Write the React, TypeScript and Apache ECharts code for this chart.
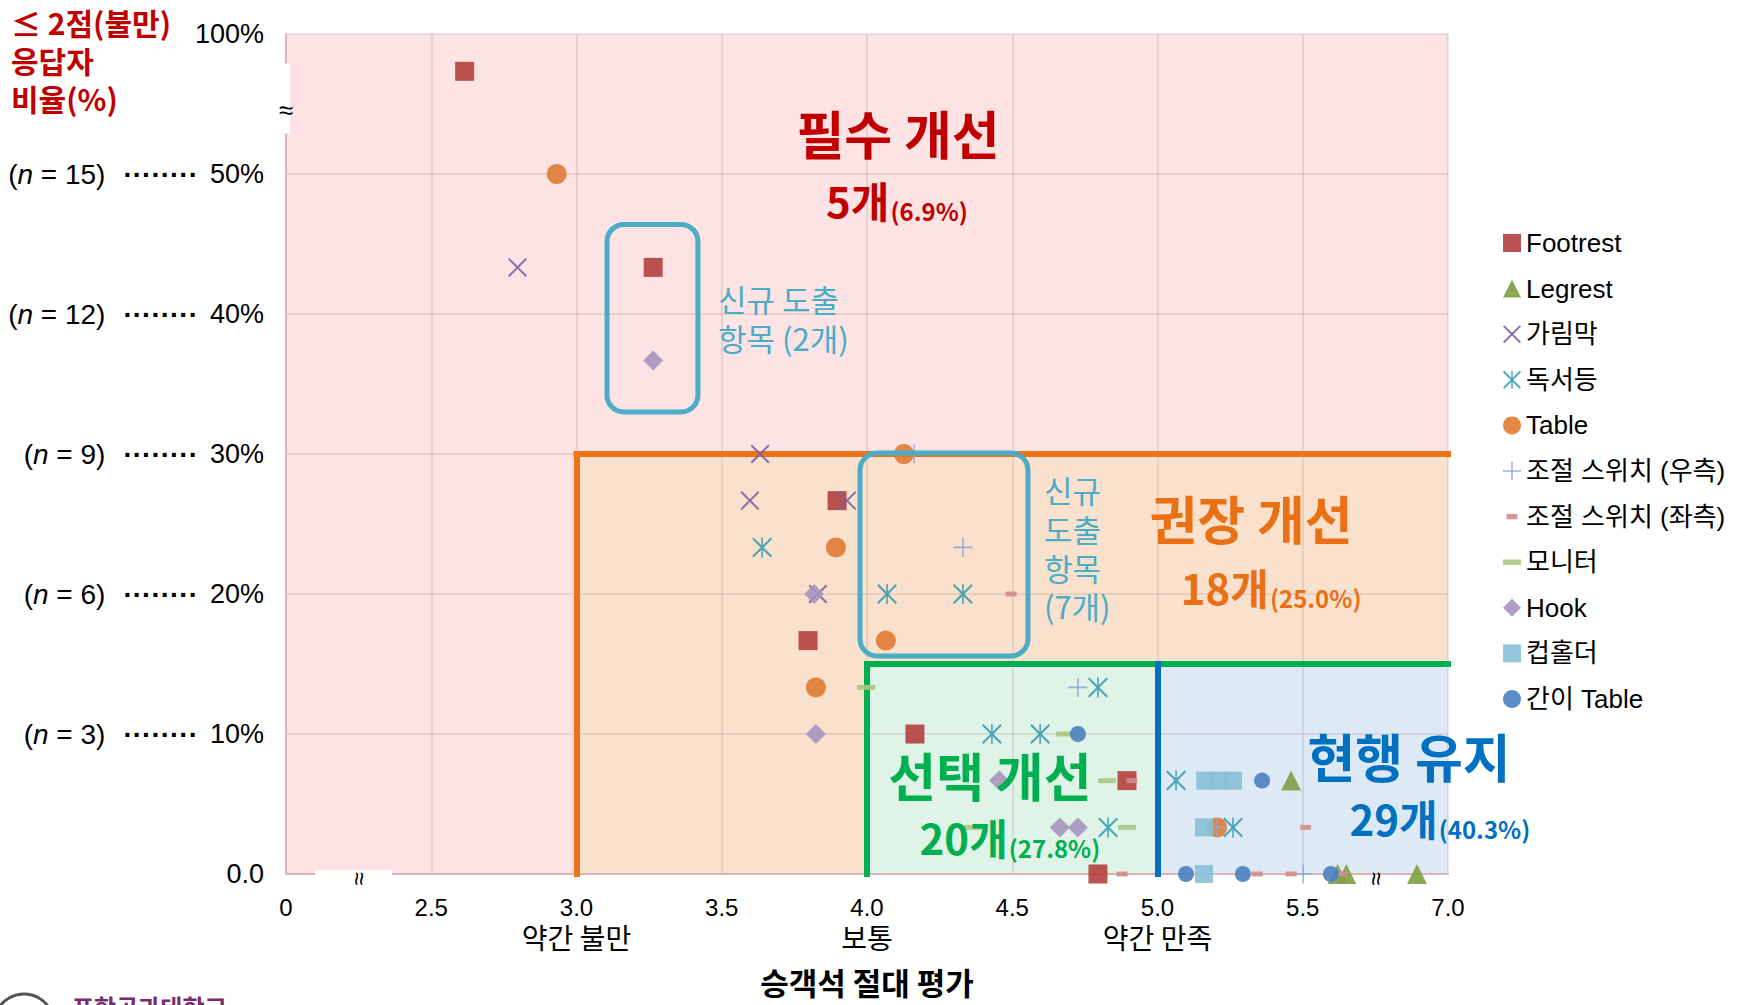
import React, { useEffect, useRef } from "react";
import * as echarts from "echarts";

// ---------- data (real values; axis breaks applied via bx/by) ----------
const footrest = [[2.615, 86.67], [3.264, 43.33], [3.897, 26.67], [3.797, 16.67], [4.165, 10], [4.895, 6.67], [4.795, 0]];
const legrest = [[5.46, 6.67], [5.86, 0], [5.95, 0], [6.68, 0]];
const screenPanel = [[2.797, 43.33], [3.632, 30], [3.597, 26.67], [3.931, 26.67], [3.831, 20]];
const readingLight = [[3.639, 23.33], [4.069, 20], [4.33, 20], [4.795, 13.33], [4.43, 10], [4.596, 10], [5.064, 6.67], [4.83, 3.33], [5.26, 3.33]];
const tableData = [[2.932, 50], [4.127, 30], [3.893, 23.33], [4.065, 16.67], [3.824, 13.33], [5.205, 3.33]];
const switchRight = [[4.162, 30], [4.33, 23.33], [4.726, 13.33], [5.205, 3.33], [5.504, 0]];
const switchLeft = [[4.496, 20], [4.912, 6.67], [5.53, 3.33], [4.878, 0], [5.343, 0], [5.46, 0], [5.905, 0]];
const monitor = [[3.997, 13.33], [4.682, 10], [4.826, 6.67], [4.365, 3.33], [4.895, 3.33]];
const hook = [[3.264, 36.67], [3.818, 20], [3.824, 10], [4.455, 6.67], [4.664, 3.33], [4.726, 3.33]];
const cupHolder = [[5.164, 6.67], [5.212, 6.67], [5.26, 6.67], [5.16, 3.33], [5.16, 0]];
const simpleTable = [[4.726, 10], [5.36, 6.67], [5.098, 0], [5.294, 0], [5.79, 0]];

const seriesNames = ["Footrest", "Legrest", "가림막", "독서등", "Table", "조절 스위치 (우측)", "조절 스위치 (좌측)", "모니터", "Hook", "컵홀더", "간이 Table"];

const xTickLabels = ["0", "2.5", "3.0", "3.5", "4.0", "4.5", "5.0", "5.5", "7.0"];
const xSubLabels: Record<string, string> = { "3.0": "약간 불만", "4.0": "보통", "5.0": "약간 만족" };
const yTickLabels = ["0.0", "10%", "20%", "30%", "40%", "50%", "100%"];
const yTickN = [null, 3, 6, 9, 12, 15, null];

// zone thresholds (real units)
const zoneX = [3.0, 4.0, 5.0];
const zoneY = [30, 15];

const zoneNames = ["필수 개선", "권장 개선", "선택 개선", "현행 유지"];
const zoneCounts = ["5개", "18개", "20개", "29개"];
const zonePcts = ["(6.9%)", "(25.0%)", "(27.8%)", "(40.3%)"];

// ---------- axis breaks ----------
const bx = (v: number) => (v <= 5.5 ? v : 5.5 + (v - 5.5) / 3);
const by = (v: number) => (v <= 50 ? v : 50 + (v - 50) / 5);

const X_PATH = "path://M0,1.5 L1.5,0 L10,8.5 L18.5,0 L20,1.5 L11.5,10 L20,18.5 L18.5,20 L10,11.5 L1.5,20 L0,18.5 L8.5,10 Z";
const PLUS_PATH = "path://M9.2,0 L10.8,0 L10.8,9.2 L20,9.2 L20,10.8 L10.8,10.8 L10.8,20 L9.2,20 L9.2,10.8 L0,10.8 L0,9.2 L9.2,9.2 Z";
const AST_PATH = "path://M0,1.5 L1.5,0 L10,8.5 L18.5,0 L20,1.5 L11.5,10 L20,18.5 L18.5,20 L10,11.5 L1.5,20 L0,18.5 L8.5,10 Z M9.2,0 L10.8,0 L10.8,20 L9.2,20 Z";
const DASH_ICON = "path://M0,0 L20,0 L20,6 L0,6 Z";
const SMALL_DASH_ICON = "path://M0,0 M20,0 M4,7 L16,7 L16,13 L4,13 Z M20,20";

const LATIN = "'Liberation Sans', Arial, 'Noto Sans CJK KR', sans-serif";
const KR = "'Noto Sans CJK KR', 'Liberation Sans', sans-serif";

const seriesDefs = [
  { data: footrest, symbol: "rect", size: 19, color: "#b3403e", icon: "rect" },
  { data: legrest, symbol: "triangle", size: 20, color: "#7f9f45", icon: "triangle" },
  { data: screenPanel, symbol: X_PATH, size: 19, color: "#7f5f9e", icon: X_PATH },
  { data: readingLight, symbol: AST_PATH, size: 20, color: "#3a9db3", icon: AST_PATH },
  { data: tableData, symbol: "circle", size: 20, color: "#e07b33", icon: "circle" },
  { data: switchRight, symbol: PLUS_PATH, size: 19, color: "#8fa6d4", icon: PLUS_PATH },
  { data: switchLeft, symbol: "rect", size: [11, 5], color: "#d48c8c", icon: SMALL_DASH_ICON },
  { data: monitor, symbol: "rect", size: [18, 5], color: "#a8c882", icon: DASH_ICON },
  { data: hook, symbol: "diamond", size: 20, color: "#a693bf", icon: "diamond" },
  { data: cupHolder, symbol: "rect", size: 18, color: "#88bfd6", icon: "rect" },
  { data: simpleTable, symbol: "circle", size: 16, color: "#4a7fc0", icon: "circle" },
];

const ORANGE = "#f07216";
const GREEN = "#00b050";
const BLUE = "#0070c0";
const CYAN = "#4bacc6";

function buildOption(): any {
  const scatterSeries = seriesDefs.map((d, i) => ({
    name: seriesNames[i],
    type: "scatter",
    symbol: d.symbol,
    symbolSize: d.size,
    z: 6,
    itemStyle: { color: d.color, opacity: 0.9 },
    data: d.data.map(([x, y]) => [bx(x), by(y)]),
  }));

  const zoneSeries = {
    name: "zones",
    type: "scatter",
    data: [],
    silent: true,
    markArea: {
      silent: true,
      label: { show: false },
      data: [
        [{ xAxis: bx(2.0), yAxis: 0, itemStyle: { color: "#fde3e3" } }, { xAxis: bx(7.0), yAxis: by(100) }],
        [{ xAxis: bx(zoneX[0]), yAxis: 0, itemStyle: { color: "#f9e1cd" } }, { xAxis: bx(7.0), yAxis: by(zoneY[0]) }],
        [{ xAxis: bx(zoneX[1]), yAxis: 0, itemStyle: { color: "#dff3e7" } }, { xAxis: bx(zoneX[2]), yAxis: by(zoneY[1]) }],
        [{ xAxis: bx(zoneX[2]), yAxis: 0, itemStyle: { color: "#ddeaf5" } }, { xAxis: bx(7.0), yAxis: by(zoneY[1]) }],
      ],
    },
    markLine: {
      silent: true,
      symbol: ["none", "none"],
      label: { show: false },
      data: [
        [{ coord: [bx(zoneX[0]), by(zoneY[0])], lineStyle: { color: ORANGE, width: 6, type: "solid", cap: "square" } }, { coord: [bx(7.0), by(zoneY[0])] }],
        [{ coord: [bx(zoneX[0]), 0], lineStyle: { color: ORANGE, width: 6, type: "solid", cap: "square" } }, { coord: [bx(zoneX[0]), by(zoneY[0])] }],
        [{ coord: [bx(zoneX[1]), by(zoneY[1])], lineStyle: { color: GREEN, width: 6, type: "solid", cap: "square" } }, { coord: [bx(7.0), by(zoneY[1])] }],
        [{ coord: [bx(zoneX[1]), 0], lineStyle: { color: GREEN, width: 6, type: "solid", cap: "square" } }, { coord: [bx(zoneX[1]), by(zoneY[1])] }],
        [{ coord: [bx(zoneX[2]), 0], lineStyle: { color: BLUE, width: 6, type: "solid", cap: "square" } }, { coord: [bx(zoneX[2]), by(zoneY[1])] }],
      ],
    },
  };

  return {
    animation: false,
    backgroundColor: "#ffffff",
    grid: { left: 286, right: 312, top: 34, bottom: 131, containLabel: false },
    legend: {
      orient: "vertical",
      left: 1498,
      top: 225,
      itemWidth: 18,
      itemHeight: 18,
      itemGap: 19.6,
      selectedMode: false,
      textStyle: { fontSize: 26, fontFamily: LATIN, color: "#000" },
      data: seriesNames.map((n, i) => ({ name: n, icon: seriesDefs[i].icon })),
    },
    xAxis: {
      type: "value",
      min: 2,
      max: 6,
      interval: 0.5,
      z: 2,
      axisLine: { show: true, onZero: false, lineStyle: { color: "#d6b6b6", width: 2 } },
      axisTick: { show: false },
      splitLine: { show: true, lineStyle: { color: "rgba(150,110,110,0.22)", width: 1.5 } },
      axisLabel: {
        margin: 19,
        formatter: (v: number) => {
          const lbl = xTickLabels[Math.round((v - 2) / 0.5)] ?? "";
          const sub = xSubLabels[lbl];
          return sub ? `{t|${lbl}}\n{s|${sub}}` : `{t|${lbl}}`;
        },
        rich: {
          t: { fontSize: 24, fontFamily: LATIN, color: "#000", lineHeight: 28 },
          s: { fontSize: 28, fontFamily: KR, color: "#000", lineHeight: 32 },
        },
      },
      name: "승객석 절대 평가",
      nameLocation: "middle",
      nameGap: 107,
      nameTextStyle: { fontSize: 31, fontWeight: "bold", fontFamily: KR, color: "#000", verticalAlign: "middle" },
    },
    yAxis: {
      type: "value",
      min: 0,
      max: 60,
      interval: 10,
      z: 2,
      axisLine: { show: true, lineStyle: { color: "#d6b6b6", width: 2 } },
      axisTick: { show: false },
      splitLine: { show: true, lineStyle: { color: "rgba(150,110,110,0.22)", width: 1.5 } },
      axisLabel: {
        margin: 22,
        formatter: (v: number) => {
          const i = Math.round(v / 10);
          const p = yTickLabels[i] ?? "";
          const n = yTickN[i];
          if (n == null) return `{p|${p}}`;
          return `{n|(}{i|n}{n| = ${n})}{d|········}{p|${p}}`;
        },
        rich: {
          n: { fontSize: 28, fontFamily: LATIN, color: "#000" },
          i: { fontSize: 28, fontFamily: LATIN, fontStyle: "italic", color: "#000" },
          d: { fontSize: 28, fontFamily: LATIN, fontWeight: "bold", color: "#000", padding: [0, 8, 0, 18] },
          p: { fontSize: 27, fontFamily: LATIN, color: "#000", width: 58, align: "right" },
        },
      },
    },
    series: [zoneSeries, ...scatterSeries],
  };
}

export default function App() {
  const ref = useRef<HTMLDivElement>(null);
  useEffect(() => {
    const chart = echarts.init(ref.current as HTMLDivElement, null, { renderer: "svg" });
    chart.setOption(buildOption());
    const px = (x: number, y: number) => chart.convertToPixel({ gridIndex: 0 }, [x, y]) as number[];

    const els: any[] = [];
    // axis breaks
    const yb0 = px(2, 57.9), yb1 = px(2, 52.9), ybm = px(2, 54.6);
    els.push({ type: "rect", z: 20, shape: { x: yb0[0] - 6, y: yb0[1], width: 10, height: yb1[1] - yb0[1] }, style: { fill: "#fff" } });
    els.push({ type: "text", z: 21, x: ybm[0], y: ybm[1], style: { text: "≈", fontSize: 26, fontFamily: LATIN, fill: "#000", align: "center", verticalAlign: "middle" } });
    const xb0 = px(2.1, 0), xb1 = px(2.365, 0), xbm = px(2.25, 0), xb2 = px(5.75, 0);
    els.push({ type: "rect", z: 20, shape: { x: xb0[0], y: xb0[1] - 4, width: xb1[0] - xb0[0], height: 10 }, style: { fill: "#fff" } });
    els.push({ type: "text", z: 21, x: xbm[0], y: xbm[1] + 5, rotation: Math.PI / 2, style: { text: "≈", fontSize: 24, fontFamily: LATIN, fill: "#000", align: "center", verticalAlign: "middle" } });
    els.push({ type: "text", z: 21, x: xb2[0], y: xb2[1] + 5, rotation: Math.PI / 2, style: { text: "≈", fontSize: 24, fontFamily: LATIN, fill: "#000", align: "center", verticalAlign: "middle" } });

    // new-item rounded boxes
    const boxes = [[3.105, 46.4, 3.418, 33.0], [3.976, 30.07, 4.554, 15.57]];
    boxes.forEach(([x0, y0, x1, y1]) => {
      const a = px(x0, y0), b = px(x1, y1);
      els.push({ type: "rect", z: 15, shape: { x: a[0], y: a[1], width: b[0] - a[0], height: b[1] - a[1], r: 17 }, style: { fill: "none", stroke: CYAN, lineWidth: 5 } });
    });

    const newText = [
      { text: "신규 도출\n항목 (2개)", at: [3.487, 39.7], lh: 38.5 },
      { text: "신규\n도출\n항목\n(7개)", at: [4.609, 23.29], lh: 38.7 },
    ];
    newText.forEach((t) => {
      const p = px(t.at[0], t.at[1]);
      els.push({ type: "text", z: 16, x: p[0], y: p[1], style: { text: t.text, fontSize: 31, fontFamily: KR, fill: CYAN, align: "left", verticalAlign: "middle", lineHeight: t.lh } });
    });

    const zoneColors = ["#c00000", "#ea7016", GREEN, BLUE];
    const namePos = [[4.107, 53.0], [5.322, 25.5], [4.423, 7.14], [5.866, 8.5]];
    const countPos = [[4.103, 48.2], [5.391, 20.57], [4.492, 2.71], [5.972, 4.07]];
    zoneNames.forEach((nm, i) => {
      const a = px(namePos[i][0], namePos[i][1]);
      els.push({ type: "text", z: 16, x: a[0], y: a[1], style: { text: nm, fontSize: 52, fontWeight: "bold", fontFamily: KR, fill: zoneColors[i], align: "center", verticalAlign: "middle" } });
      const b = px(countPos[i][0], countPos[i][1]);
      els.push({
        type: "text", z: 16, x: b[0], y: b[1],
        style: {
          text: `{c|${zoneCounts[i]}}{p|${zonePcts[i]}}`,
          align: "center", verticalAlign: "middle",
          rich: {
            c: { fontSize: 42, fontWeight: "bold", fontFamily: KR, fill: zoneColors[i], lineHeight: 46 },
            p: { fontSize: 24, fontWeight: "bold", fontFamily: KR, fill: zoneColors[i], verticalAlign: "bottom", lineHeight: 46, padding: [0, 0, 0, 1] },
          },
        },
      });
    });

    // y-axis title
    els.push({ type: "text", z: 16, x: 11, y: 3, style: { text: "≤ 2점(불만)\n응답자\n비율(%)", fontSize: 30, fontWeight: "bold", fontFamily: KR, fill: "#c00000", lineHeight: 38, align: "left", verticalAlign: "top" } });

    // footer fragments
    els.push({ type: "circle", z: 16, shape: { cx: 24, cy: 1024, r: 30 }, style: { fill: "#fff", stroke: "#555", lineWidth: 3 } });
    els.push({ type: "text", z: 16, x: 72, y: 994, style: { text: "포항공과대학교", fontSize: 24, fontWeight: "bold", fontFamily: KR, fill: "#7b2c6b", align: "left", verticalAlign: "top" } });

    chart.setOption({ graphic: { elements: els } });
    return () => chart.dispose();
  }, []);
  return <div ref={ref} style={{ position: "fixed", left: 0, top: 0, width: 1760, height: 1005 }} />;
}
